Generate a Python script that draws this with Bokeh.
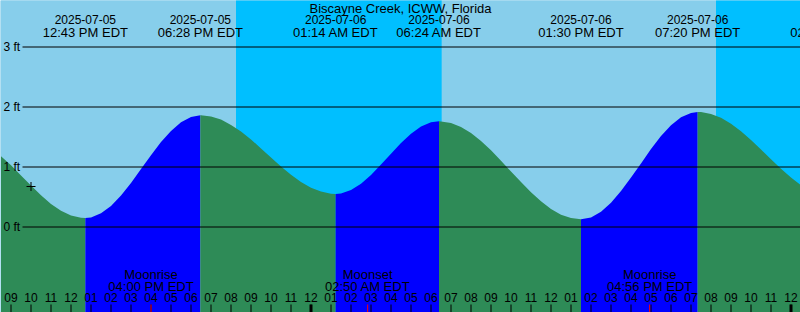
from bokeh.plotting import figure
from bokeh.models import Range1d
from bokeh.embed import file_html
from bokeh.resources import INLINE
from bokeh.core.properties import value

# ---------------- data ----------------
title_text = "Biscayne Creek, ICWW, Florida"

# hours since 2025-07-05 00:00 EDT
times = [8.5, 9.0, 9.5, 10.0, 10.5, 11.0, 11.5, 12.0, 12.5, 12.717,
         13.0, 13.5, 14.0, 14.5, 15.0, 15.5, 16.0, 16.5, 17.0, 17.5, 18.0, 18.467,
         18.5, 19.0, 19.5, 20.0, 20.5, 21.0, 21.5, 22.0, 22.5, 23.0, 23.5, 24.0,
         24.5, 25.0, 25.233, 25.5, 26.0, 26.5, 27.0, 27.5, 28.0, 28.5, 29.0, 29.5,
         30.0, 30.4, 30.5, 31.0, 31.5, 32.0, 32.5, 33.0, 33.5, 34.0, 34.5, 35.0,
         35.5, 36.0, 36.5, 37.0, 37.5, 38.0, 38.5, 39.0, 39.5, 40.0, 40.5, 41.0,
         41.5, 42.0, 42.5, 43.0, 43.333, 43.5, 44.0, 44.5, 45.0, 45.5, 46.0, 46.5,
         47.0, 47.5, 48.0, 48.5]
# tide level, ft
levels = [1.18, 1.03, 0.86, 0.69, 0.53, 0.385, 0.27, 0.19, 0.155, 0.15,
          0.16, 0.23, 0.35, 0.525, 0.735, 0.965, 1.195, 1.415, 1.60, 1.745, 1.835, 1.862,
          1.862, 1.84, 1.79, 1.70, 1.59, 1.46, 1.31, 1.16, 1.01, 0.87, 0.75, 0.655,
          0.59, 0.555, 0.55, 0.56, 0.615, 0.72, 0.865, 1.04, 1.22, 1.40, 1.555, 1.675,
          1.745, 1.762, 1.76, 1.735, 1.665, 1.565, 1.435, 1.28, 1.105, 0.925, 0.75, 0.58,
          0.43, 0.30, 0.205, 0.15, 0.128, 0.16, 0.255, 0.405, 0.60, 0.825, 1.06, 1.30,
          1.515, 1.695, 1.83, 1.90, 1.918, 1.915, 1.885, 1.82, 1.72, 1.595, 1.45, 1.29,
          1.13, 0.97, 0.825, 0.695]

extreme_times = [12.717, 18.467, 25.233, 30.4, 37.5, 43.333]

event_times = [12.717, 18.467, 25.233, 30.4, 37.5, 43.333, 50.1]
event_dates = ["2025-07-05", "2025-07-05", "2025-07-06", "2025-07-06",
               "2025-07-06", "2025-07-06", "2025-07-07"]
event_clock = ["12:43 PM EDT", "06:28 PM EDT", "01:14 AM EDT", "06:24 AM EDT",
               "01:30 PM EDT", "07:20 PM EDT", "02:06 AM EDT"]

moon_times = [16.0, 26.833, 40.933]
moon_kinds = ["Moonrise", "Moonset", "Moonrise"]
moon_clock = ["04:00 PM EDT", "02:50 AM EDT", "04:56 PM EDT"]

night_starts = [20.25, 44.25]     # sunset
night_ends = [30.533, 50.0]       # sunrise

hour_ticks = [9, 10, 11, 12, 13, 14, 15, 16, 17, 18, 19, 20, 21, 22, 23, 24,
              25, 26, 27, 28, 29, 30, 31, 32, 33, 34, 35, 36, 37, 38, 39, 40,
              41, 42, 43, 44, 45, 46, 47, 48]
hour_labels = ["09", "10", "11", "12", "01", "02", "03", "04", "05", "06", "07", "08",
               "09", "10", "11", "12", "01", "02", "03", "04", "05", "06", "07", "08",
               "09", "10", "11", "12", "01", "02", "03", "04", "05", "06", "07", "08",
               "09", "10", "11", "12"]
midnight_ticks = [24, 48]

foot_levels = [0, 1, 2, 3]
foot_labels = ["0 ft", "1 ft", "2 ft", "3 ft"]

now_time = 10.0
now_level = 0.675

# ---------------- layout helpers ----------------
W, H = 800, 312
PXH = 20.0   # px per hour
PXF = 60.0   # px per ft
ZERO_ROW = 226.5
X0 = 8.5 - 0.5 / PXH
X1 = X0 + W / PXH
Y1 = ZERO_ROW / PXF
Y0 = -(H - ZERO_ROW) / PXF
SHIFT = 4.5  # text baseline correction, px upward


def xpx(px):
    return X0 + px / PXH


def ypx(py):
    return (ZERO_ROW - py) / PXF


def tpx(py):
    return ypx(py - SHIFT)


DAY = "#87CEEB"
NIGHT = "#00BFFF"
FALL = "#2E8B57"
RISE = "#0000FF"
FONT = value("Liberation Sans")


def label(x, y, text, size, align="center"):
    p.text(x=x, y=y, text=text, text_font=FONT, text_font_size=size,
           text_color="black", text_align=align, text_baseline="alphabetic")


p = figure(width=W, height=H, x_range=Range1d(X0, X1), y_range=Range1d(Y0, Y1),
           output_backend="svg", toolbar_location=None, min_border=0,
           min_border_left=0, min_border_right=0, min_border_top=0, min_border_bottom=0)
p.axis.visible = False
p.grid.visible = False
p.outline_line_color = None
p.background_fill_color = DAY
p.border_fill_color = DAY

# sky
p.quad(left=[X0], right=[X1], bottom=[Y0 - 1], top=[Y1 + 1], color=DAY, line_color=None)
p.quad(left=night_starts, right=night_ends, bottom=[Y0 - 1] * len(night_starts),
       top=[Y1 + 1] * len(night_starts), color=NIGHT, line_color=None)

# water
idx = [0] + [times.index(t) for t in extreme_times] + [len(times) - 1]
for a, b in zip(idx[:-1], idx[1:]):
    xs = times[a:b + 1]
    ys = levels[a:b + 1]
    col = RISE if levels[b] > levels[a] else FALL
    p.varea(x=xs, y1=[Y0 - 1] * len(xs), y2=ys, fill_color=col)

# foot lines and labels
p.segment(x0=[xpx(22)] * 4, y0=foot_levels, x1=[X1] * 4, y1=foot_levels,
          line_color="black", line_width=1)
label([xpx(3)] * 4, [lv - (4.5 - SHIFT) / PXF for lv in foot_levels], foot_labels,
      "12px", "left")

# current-time marker
p.scatter(x=[now_time], y=[now_level], marker="cross", size=9,
          line_color="black", line_width=1)

# hour ticks
p.segment(x0=hour_ticks, y0=[ypx(304)] * len(hour_ticks), x1=hour_ticks,
          y1=[Y0 - 1] * len(hour_ticks), line_color="black", line_width=1)
p.segment(x0=midnight_ticks, y0=[ypx(304)] * 2, x1=midnight_ticks, y1=[Y0 - 1] * 2,
          line_color="black", line_width=3)
p.segment(x0=moon_times, y0=[ypx(304)] * 3, x1=moon_times, y1=[Y0 - 1] * 3,
          line_color="red", line_width=1)
label(hour_ticks, [tpx(301)] * len(hour_ticks), hour_labels, "12px")

# moon events
label(moon_times, [tpx(278)] * 3, moon_kinds, "13px")
label(moon_times, [tpx(290)] * 3, moon_clock, "13px")

# tide events
n = len(event_times)
label(event_times, [tpx(23.5)] * n, event_dates, "12px")
label(event_times, [tpx(36)] * n, event_clock, "13px")

# title
label([(X0 + X1) / 2], [tpx(12)], [title_text], "13px")

open("out.html", "w").write(file_html(p, INLINE))
